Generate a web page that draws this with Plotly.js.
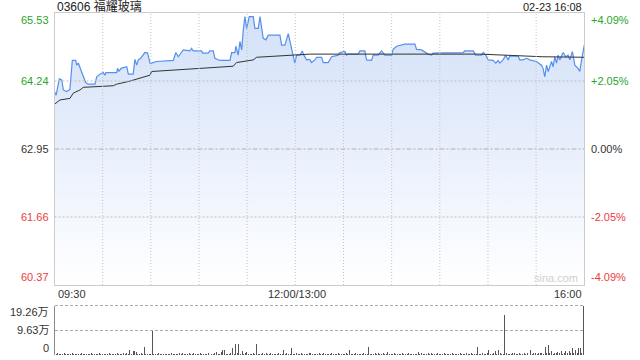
<!DOCTYPE html>
<html>
<head>
<meta charset="utf-8">
<script src="https://cdn.plot.ly/plotly-3.0.1.min.js"></script>
<style>html,body{margin:0;padding:0;background:#fff;}#chart{width:640px;height:360px;}</style>
</head>
<body>
<div id="chart"></div>
<script>
// ---- data ----
const stockTitle = "03606 福耀玻璃";
const stamp = "02-23 16:08";
const prevClose = 62.95;
const priceTicks = [65.53, 64.24, 62.95, 61.66, 60.37];
const pctTicks = ["+4.09%", "+2.05%", "0.00%", "-2.05%", "-4.09%"];
const volTicks = [19.26, 9.63, 0];
const volTickText = ["19.26万", "9.63万", "0"];
const timeLabels = ["09:30", "12:00/13:00", "16:00"];
const timeGridMinutes = [30, 60, 90, 120, 150, 180, 210, 240, 270, 300];

// trading minutes since 09:30 (lunch break collapsed)
const priceMinutes = [0,1,3,4.5,5.5,7.6,9.6,11.1,13.2,13.8,14.8,16.3,17.9,19.4,21,25.2,26.3,28.3,30.4,31.4,32,38.7,39.3,40.2,41.4,45,46,49,50.1,51.2,52.2,53.7,56.3,58,59.5,60.5,63.6,74,75.6,77.1,80.2,84.4,85.4,86.4,91.6,92.3,95.8,96.8,98.9,99.9,103,109.3,110.3,112.4,113,114.4,115.5,116.6,117.6,118.6,119.7,121.3,123.8,124.8,126.9,128,130,131.7,133.1,140.4,141.5,143.5,145.6,146.6,148.3,149.7,150.8,152.9,154.3,155.3,157,159,160.1,162.2,163.3,166.4,167.4,170.5,172.6,176.7,177.8,180.9,181.9,182.9,189.2,190.2,193.3,194.4,197.5,198.5,201.6,203.7,205.8,210,210.9,213.1,218.2,224.5,225.5,228.6,232.7,234.9,235.8,254.5,255.6,260.8,262.4,266,267,268.7,270.1,273.2,274.9,276.3,277.4,279.4,281.1,282.6,283.6,288.8,289.8,291.9,294,296.1,300.2,303.3,304.3,305.4,306.5,307.5,309.6,310.6,311.6,312.7,313.7,314.7,316.8,318.5,319.9,321,322.6,324.1,326.1,327.2,328.3,330];
const prices = [64.04,63.97,64.28,64.26,64.07,64.04,64.08,64.63,64.63,64.54,64.58,64.45,64.35,64.21,64.18,64.18,64.32,64.37,64.40,64.35,64.40,64.40,64.48,64.42,64.48,64.51,64.37,64.37,64.65,64.54,64.64,64.67,64.78,64.77,64.58,64.58,64.61,64.63,64.78,64.70,64.83,64.81,64.86,64.81,64.81,64.77,64.77,64.81,64.81,64.67,64.63,64.63,64.78,64.78,64.90,64.73,64.99,64.83,65.21,65.46,65.24,65.46,65.46,65.24,65.24,65.46,65.05,65.02,65.11,65.11,64.92,64.92,65.14,64.99,64.77,64.58,64.73,64.73,64.81,64.73,64.64,64.65,64.59,64.64,64.69,64.69,64.59,64.59,64.70,64.73,64.78,64.80,64.73,64.75,64.75,64.81,64.81,64.64,64.63,64.73,64.73,64.81,64.73,64.73,64.84,64.90,64.94,64.94,64.84,64.83,64.75,64.73,64.77,64.78,64.81,64.81,64.73,64.73,64.78,64.73,64.64,64.63,64.58,64.63,64.58,64.64,64.73,64.64,64.71,64.71,64.64,64.64,64.67,64.64,64.61,64.54,64.48,64.32,64.54,64.42,64.61,64.51,64.70,64.58,64.73,64.64,64.78,64.70,64.73,64.64,64.80,64.54,64.48,64.42,64.64,64.92];

const avgMinutes = [0,3.4,9.6,11.7,15.9,17.9,36.6,38.7,46,49,55.3,59.5,60.5,80.2,111.3,113.4,123.8,125.9,146.6,159,264.9,277.4,304.2,330];
const avgPrices = [63.80,63.88,63.91,64.01,64.07,64.12,64.15,64.18,64.23,64.26,64.32,64.35,64.42,64.46,64.52,64.59,64.64,64.69,64.73,64.75,64.75,64.73,64.70,64.69];

// volume (万) per trading minute 0..330
const volumes = [
1.7,0.5,0.6,0.4,0.5,0.3,0.6,0.4,0.5,0.3,
0.4,0.6,0.3,0.5,0.4,0.3,0.5,0.6,0.4,0.3,
0.5,0.4,0.3,0.6,0.4,0.5,0.3,0.4,0.6,0.3,
0.5,0.4,0.3,0.5,0.6,0.4,0.3,0.5,0.4,0.7,
0.4,0.5,0.3,0.6,0.4,0.8,0.5,1.9,0.4,1.6,
1.5,1.3,0.5,0.4,0.6,0.5,3.2,0.4,0.3,0.5,
0.4,9.9,0.5,0.4,0.3,0.6,0.4,0.3,0.5,0.4,
0.3,0.5,0.4,0.6,0.3,0.4,0.5,0.3,0.6,0.4,
0.9,0.4,0.5,0.3,0.6,0.4,0.5,0.7,0.4,0.3,
0.5,0.6,0.4,0.3,0.5,0.4,0.8,0.3,0.5,0.4,
0.6,1.2,0.4,0.5,1.3,1.9,1.8,0.4,0.5,0.3,
0.6,2.8,0.5,4.3,0.6,4.3,0.5,1.7,0.4,0.6,
1.2,0.4,0.5,0.3,0.6,0.5,4.3,0.4,0.5,0.3,
0.9,0.4,0.9,0.5,0.3,0.6,0.4,0.5,0.3,0.4,
0.6,0.4,0.5,1.9,0.4,0.9,0.3,0.5,2.7,0.4,
0.5,0.8,0.4,0.3,0.6,0.4,0.5,0.3,0.4,0.6,
0.7,0.4,0.3,0.5,0.4,0.6,0.3,0.5,0.7,0.4,
0.3,0.5,0.4,0.9,0.3,0.5,0.4,0.6,0.3,0.4,
0.5,0.3,0.6,0.4,1.9,0.5,0.3,0.4,0.6,0.3,
0.4,0.5,0.3,0.6,0.4,0.5,3.0,0.4,0.3,0.5,
0.8,0.4,0.6,0.3,0.5,0.9,0.4,0.3,1.2,0.5,
0.4,0.3,0.6,0.4,0.5,0.3,0.4,0.6,0.3,0.5,
0.4,0.6,0.3,0.5,0.4,0.3,0.5,1.1,0.4,0.6,
0.3,0.5,0.4,0.6,0.3,0.9,0.4,0.5,0.3,0.6,
0.4,0.5,0.3,0.6,0.4,0.3,0.5,0.4,0.6,0.3,
0.5,0.4,0.3,0.6,0.5,0.4,0.3,0.9,0.5,0.4,
0.6,0.3,0.5,0.4,3.2,0.5,0.3,0.6,0.4,0.5,
0.6,1.9,0.4,0.5,0.7,1.4,0.5,1.9,0.6,0.4,
0.5,15.4,0.6,0.4,0.5,0.3,0.6,0.7,0.4,0.5,
0.6,0.4,0.5,0.8,0.4,0.6,0.5,1.9,0.4,0.6,
0.9,0.5,0.7,0.6,0.8,0.5,3.1,0.7,3.9,0.6,
1.6,0.5,0.8,0.6,1.2,0.7,1.6,0.5,0.8,1.5,
0.6,1.7,0.7,2.8,0.6,1.8,0.9,2.9,2.7,0.8,
19.26];
const volMinutes = volumes.map((v, i) => i);

// ---- styling / layout ----
const W = 640, H = 360;
const L = 54.5, R = 584.3, T = 13, B = 285, VT = 305.5, VB = 355, VMID = 330.5;
const px = x => x / W, py = y => 1 - y / H;
const green = "#2aa52a", red = "#ee3b3b", dark = "#333333";
const font = "Liberation Sans, Arial, Noto Sans CJK SC, sans-serif";
const gridDot = {color: "#c4c4c4", width: 1, dash: "1px,2px"};
const gridDotH = {color: "#bdbdbd", width: 1, dash: "2px,2px"};

const traces = [
  {
    x: priceMinutes, y: prices, type: "scatter", mode: "lines",
    line: {color: "#5590ee", width: 1.2}, fill: "tozeroy",
    fillgradient: {type: "vertical", start: priceTicks[4], stop: priceTicks[0],
      colorscale: [[0, "#ffffff"], [1, "#d2e0f8"]]},
    xaxis: "x", yaxis: "y", hoverinfo: "skip"
  },
  {
    x: avgMinutes, y: avgPrices, type: "scatter", mode: "lines",
    line: {color: "#333333", width: 1}, xaxis: "x", yaxis: "y", hoverinfo: "skip"
  },
  {
    x: volMinutes, y: volumes, type: "bar", width: 0.62,
    marker: {color: "#555555", line: {width: 0}}, xaxis: "x2", yaxis: "y2", hoverinfo: "skip"
  }
];

const ann = [];
const labelColors = [green, green, dark, red, red];
const labelY = [20, 81, 149, 217, 277];
priceTicks.forEach((v, i) => {
  ann.push({text: v.toFixed(2), xref: "paper", yref: "paper", x: px(51), y: py(labelY[i]),
    xanchor: "right", yanchor: "middle", showarrow: false, font: {size: 11, color: labelColors[i], family: font}});
  ann.push({text: pctTicks[i], xref: "paper", yref: "paper", x: px(589), y: py(labelY[i]),
    xanchor: "left", yanchor: "middle", showarrow: false, font: {size: 11, color: labelColors[i], family: font}});
});
const volLabelY = [312, 330, 348];
volTickText.forEach((t, i) => {
  ann.push({text: t, xref: "paper", yref: "paper", x: px(51), y: py(volLabelY[i]),
    xanchor: "right", yanchor: "middle", showarrow: false, font: {size: 11, color: dark, family: font}});
});
const tAnch = ["left", "center", "right"];
const tX = [L + 1, 297, R];
timeLabels.forEach((t, i) => {
  ann.push({text: t, xref: "paper", yref: "paper", x: px(tX[i]), y: py(294),
    xanchor: tAnch[i], yanchor: "middle", showarrow: false, font: {size: 11, color: dark, family: font}});
});
ann.push({text: stockTitle, xref: "paper", yref: "paper", x: px(L), y: py(6.5), xanchor: "left", yanchor: "middle",
  showarrow: false, font: {size: 12, color: "#222", family: "Liberation Sans, Noto Sans CJK SC, sans-serif", weight: 400}});
ann.push({text: stamp, xref: "paper", yref: "paper", x: px(R), y: py(6.5), xanchor: "right", yanchor: "middle",
  showarrow: false, font: {size: 11, color: "#222", family: font}});
ann.push({text: "sina.com", xref: "paper", yref: "paper", x: px(580), y: py(278), xanchor: "right", yanchor: "middle",
  showarrow: false, font: {size: 11, color: "#d0d0d0", family: font}});

const shapes = [];
timeGridMinutes.forEach(m => shapes.push({type: "line", xref: "x", yref: "y", x0: m, x1: m,
  y0: priceTicks[4], y1: priceTicks[0], line: gridDot, layer: "above"}));
[priceTicks[1], priceTicks[3]].forEach(v => shapes.push({type: "line", xref: "x", yref: "y", x0: 0, x1: 330,
  y0: v, y1: v, line: gridDotH, layer: "above"}));
shapes.push({type: "line", xref: "x", yref: "y", x0: 0, x1: 330, y0: prevClose, y1: prevClose,
  line: {color: "#b0b0b0", width: 1, dash: "5px,2px,2px,2px"}, layer: "above"});
// volume panel dotted guides
[VT, VMID].forEach(yy => shapes.push({type: "line", xref: "paper", yref: "paper",
  x0: px(55), x1: px(584), y0: py(yy), y1: py(yy), line: {color: "#aaaaaa", width: 1, dash: "3px,2px"}, layer: "above"}));

const layout = {
  width: W, height: H, margin: {l: 0, r: 0, t: 0, b: 0},
  paper_bgcolor: "#fff", plot_bgcolor: "rgba(0,0,0,0)", showlegend: false,
  xaxis: {domain: [px(L), px(R)], range: [0, 330], showgrid: false, showticklabels: false, ticks: "",
    showline: true, mirror: true, linecolor: "#cccccc", linewidth: 1, zeroline: false},
  yaxis: {domain: [py(B), py(T)], range: [priceTicks[4], priceTicks[0]], showgrid: false,
    showticklabels: false, ticks: "", showline: true, mirror: true, linecolor: "#cccccc", zeroline: false},
  xaxis2: {domain: [px(L), px(R)], range: [0, 330.5], anchor: "y2", showgrid: false, showticklabels: false,
    ticks: "", showline: false, zeroline: false},
  yaxis2: {domain: [py(VB), py(VT)], range: [0, volTicks[0]], anchor: "x2", showgrid: false,
    showticklabels: false, ticks: "", showline: true, linecolor: "#888888", zeroline: false},
  bargap: 0, annotations: ann, shapes: shapes
};

Plotly.newPlot("chart", traces, layout, {staticPlot: true, displayModeBar: false});
</script>
</body>
</html>
